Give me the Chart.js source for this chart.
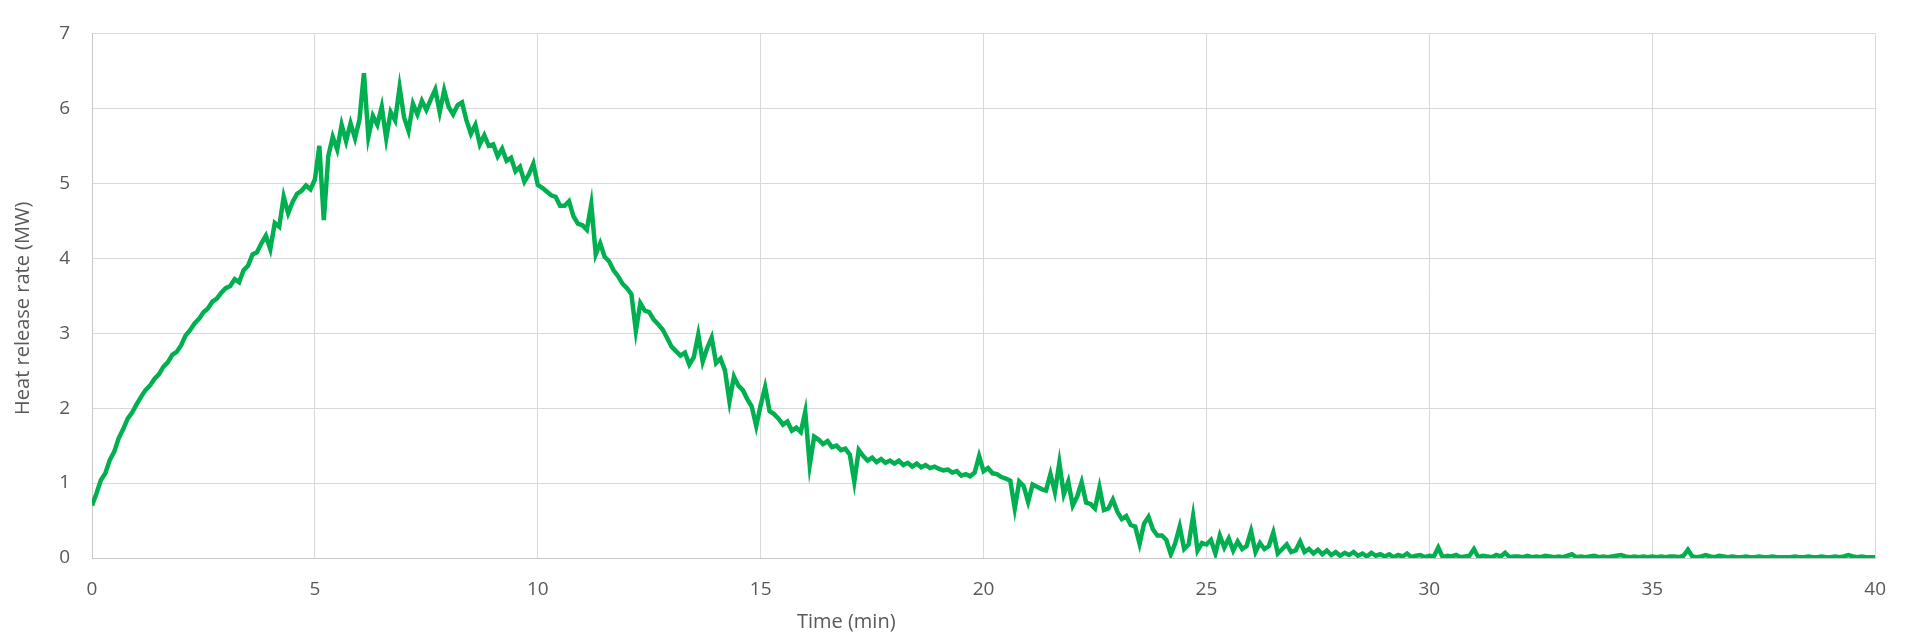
<!DOCTYPE html>
<html>
<head>
<meta charset="utf-8">
<script src="https://cdn.jsdelivr.net/npm/chart.js@4"></script>
<style>
  html, body { margin: 0; padding: 0; background: #fff; }
  #wrap { width: 1906px; height: 636px; }
</style>
</head>
<body>
<div id="wrap"><canvas id="hrrChart"></canvas></div>
<script>
const timeStep = 0.1;
const hrr = [
  0.70,0.86,1.04,1.13,1.31,1.42,1.60,1.72,1.86,1.94,
  2.05,2.15,2.24,2.30,2.39,2.45,2.55,2.61,2.71,2.75,
  2.84,2.97,3.04,3.13,3.19,3.28,3.33,3.42,3.46,3.54,
  3.60,3.63,3.72,3.68,3.84,3.90,4.05,4.08,4.20,4.30,
  4.12,4.47,4.42,4.82,4.60,4.75,4.86,4.90,4.97,4.92,
  5.05,5.50,4.51,5.36,5.62,5.45,5.78,5.56,5.80,5.60,
  5.85,6.47,5.62,5.90,5.78,6.02,5.60,5.95,5.84,6.28,
  5.88,5.70,6.06,5.92,6.10,5.98,6.12,6.25,5.95,6.24,
  6.02,5.92,6.04,6.08,5.84,5.66,5.78,5.52,5.64,5.50,
  5.52,5.36,5.46,5.30,5.34,5.16,5.22,5.02,5.12,5.26,
  4.98,4.94,4.89,4.84,4.82,4.70,4.70,4.76,4.56,4.46,
  4.44,4.38,4.72,4.05,4.20,4.02,3.96,3.84,3.76,3.66,
  3.60,3.52,3.03,3.40,3.30,3.28,3.18,3.12,3.05,2.94,
  2.82,2.76,2.70,2.74,2.58,2.68,2.98,2.62,2.80,2.94,
  2.60,2.66,2.50,2.09,2.42,2.30,2.24,2.12,2.02,1.76,
  2.04,2.28,1.96,1.92,1.86,1.78,1.82,1.70,1.74,1.68,
  1.95,1.24,1.62,1.58,1.52,1.56,1.48,1.50,1.44,1.46,
  1.38,1.02,1.44,1.36,1.30,1.34,1.28,1.32,1.27,1.30,
  1.26,1.30,1.24,1.27,1.22,1.26,1.21,1.24,1.20,1.22,
  1.19,1.17,1.18,1.14,1.16,1.10,1.12,1.09,1.14,1.36,
  1.16,1.20,1.13,1.12,1.08,1.06,1.03,0.66,1.02,0.96,
  0.75,0.98,0.95,0.92,0.90,1.12,0.88,1.27,0.85,1.02,
  0.70,0.82,1.01,0.74,0.72,0.66,0.94,0.64,0.66,0.78,
  0.62,0.52,0.56,0.44,0.42,0.19,0.46,0.55,0.38,0.30,
  0.30,0.24,0.05,0.20,0.42,0.12,0.18,0.56,0.10,0.20,
  0.18,0.24,0.06,0.30,0.14,0.26,0.10,0.22,0.12,0.16,
  0.36,0.08,0.20,0.12,0.16,0.34,0.06,0.12,0.18,0.08,
  0.10,0.22,0.08,0.12,0.06,0.11,0.05,0.10,0.04,0.08,
  0.03,0.07,0.04,0.08,0.03,0.06,0.02,0.07,0.03,0.05,
  0.02,0.05,0.01,0.04,0.02,0.06,0.01,0.03,0.04,0.01,
  0.03,0.02,0.14,0.01,0.03,0.02,0.04,0.01,0.02,0.03,
  0.12,0.01,0.03,0.02,0.01,0.04,0.02,0.07,0.01,0.02,
  0.02,0.01,0.03,0.01,0.02,0.01,0.03,0.02,0.01,0.02,
  0.01,0.03,0.05,0.01,0.02,0.01,0.02,0.03,0.01,0.02,
  0.01,0.02,0.03,0.04,0.02,0.01,0.02,0.01,0.02,0.01,
  0.02,0.01,0.02,0.01,0.02,0.02,0.01,0.03,0.11,0.02,
  0.01,0.02,0.04,0.02,0.01,0.03,0.02,0.01,0.02,0.01,
  0.01,0.02,0.01,0.01,0.02,0.01,0.01,0.02,0.01,0.01,
  0.01,0.01,0.02,0.01,0.01,0.02,0.01,0.01,0.02,0.01,
  0.01,0.02,0.01,0.02,0.04,0.02,0.01,0.02,0.01,0.01,
  0.01
];

const xTitle = 'Time (min)';
const yTitle = 'Heat release rate (MW)';

const points = hrr.map((v, i) => ({ x: Math.round(i * timeStep * 10) / 10, y: v }));

const textColor = '#595959';
const gridColor = '#d9d9d9';
const tickFont = { family: '"Open Sans", sans-serif', size: 19 };
const titleFont = '20px "Open Sans", sans-serif';

// axis titles sit off-centre in the original, so draw them by hand
const axisTitles = {
    id: 'axisTitles',
    afterDraw(chart) {
        const ctx = chart.ctx;
        const area = chart.chartArea;
        ctx.save();
        ctx.font = titleFont;
        ctx.fillStyle = textColor;
        ctx.textAlign = 'center';
        ctx.textBaseline = 'middle';
        ctx.fillText(xTitle, area.left + (area.right - area.left) * 0.423, 622);
        ctx.translate(23, area.top + (area.bottom - area.top) * 0.524);
        ctx.rotate(-Math.PI / 2);
        ctx.fillText(yTitle, 0, 0);
        ctx.restore();
    }
};

const hrrConfig = {
    type: 'line',
    data: {
        datasets: [{
            data: points,
            borderColor: '#00B050',
            borderWidth: 4.5,
            pointRadius: 0,
            tension: 0,
            fill: false
        }]
    },
    options: {
        responsive: true,
        maintainAspectRatio: false,
        animation: false,
        layout: {
            padding: { left: 10, right: 15, top: 16, bottom: 0 }
        },
        scales: {
            x: {
                type: 'linear',
                min: 0,
                max: 40,
                ticks: {
                    stepSize: 5,
                    color: textColor,
                    font: tickFont,
                    padding: 20
                },
                grid: {
                    color: gridColor,
                    drawTicks: false
                },
                border: { color: '#c8c8c8' },
                afterFit: function(scale) { scale.height = 78; }
            },
            y: {
                min: 0,
                max: 7,
                ticks: {
                    stepSize: 1,
                    color: textColor,
                    font: tickFont,
                    padding: 22
                },
                grid: {
                    color: gridColor,
                    drawTicks: false
                },
                border: { color: '#c8c8c8' },
                afterFit: function(scale) { scale.width = 82; }
            }
        },
        plugins: {
            legend: { display: false },
            tooltip: { enabled: false }
        }
    },
    plugins: [axisTitles]
};

const hrrChart = new Chart(document.getElementById('hrrChart'), hrrConfig);
</script>
</body>
</html>
